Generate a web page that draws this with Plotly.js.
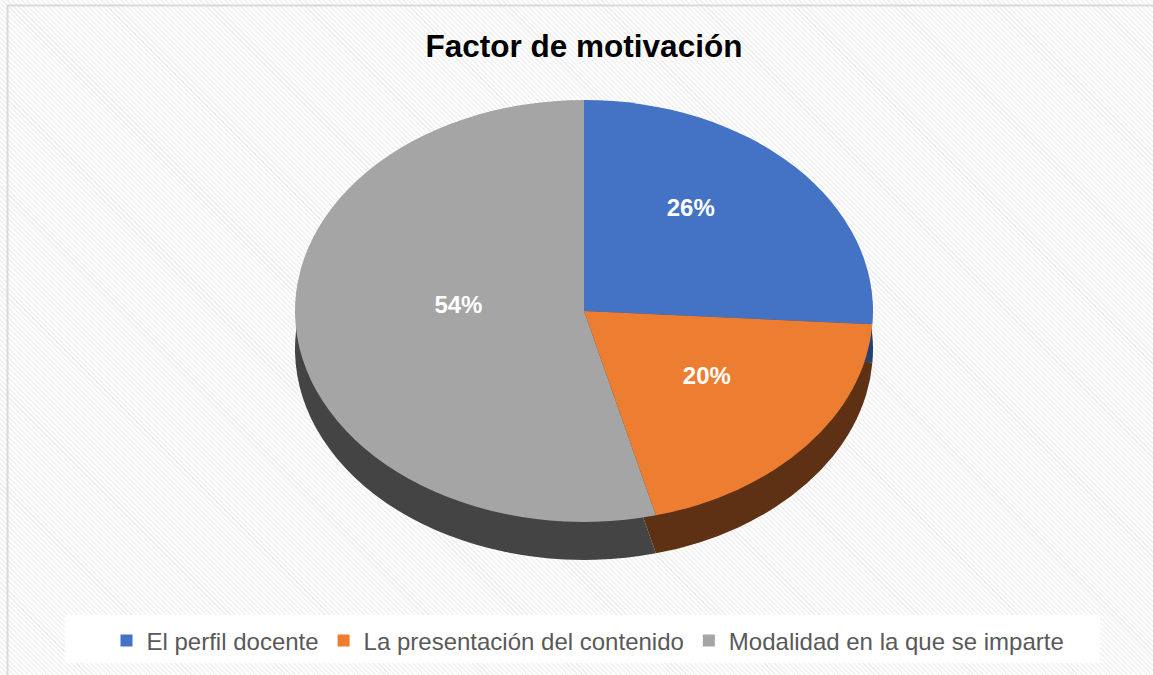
<!DOCTYPE html>
<html>
<head>
<meta charset="utf-8">
<script src="https://cdn.plot.ly/plotly-3.0.1.min.js"></script>
<style>
  html, body { margin: 0; padding: 0; }
  body {
    width: 1153px; height: 675px; overflow: hidden;
    background: repeating-linear-gradient(45deg, #ffffff 0px, #ffffff 2px, #f1f1f1 2px, #f1f1f1 3.5px);
  }
  #chart { width: 1153px; height: 675px; }
</style>
</head>
<body>
<div id="chart"></div>
<script>
// ---- data ----
const categories = ["El perfil docente", "La presentación del contenido", "Modalidad en la que se imparte"];
const values = [26, 20, 54];
const topColors = ["#4472c4", "#ed7d31", "#a5a5a5"];
const sideColors = ["#27406e", "#5e3114", "#444444"];
const chartTitle = "Factor de motivación";

// ---- geometry (pie layout) ----
const W = 1153, H = 675;
const cxPx = 584, cyPx = 311;      // centre of top face
const ry = 211, rx = 289;          // half-height / half-width of tilted face
const depth = 38;                  // thickness of the pie side
const sx = rx / ry;
const textSx = 1.2, textShiftY = -20;   // approximate perspective for labels

function dom(cy) {
  return {
    x: [(cxPx - ry) / W, (cxPx + ry) / W],
    y: [(H - cy - ry) / H, (H - cy + ry) / H]
  };
}

const sideTrace = {
  type: "pie", labels: categories, values: values, sort: false,
  direction: "clockwise", rotation: 0,
  marker: { colors: sideColors, line: { width: 0 } },
  textinfo: "none", showlegend: false, hoverinfo: "skip",
  domain: dom(cyPx + depth)
};
const topTrace = {
  type: "pie", labels: categories, values: values, sort: false,
  direction: "clockwise", rotation: 0,
  marker: { colors: topColors, line: { width: 0 } },
  texttemplate: "%{percent:.0%}", textposition: "inside",
  insidetextorientation: "horizontal",
  textfont: { family: "Liberation Sans, Arial, sans-serif", size: 24, color: "#ffffff", weight: "bold" },
  domain: dom(cyPx)
};

const layout = {
  width: W, height: H,
  margin: { l: 0, r: 0, t: 0, b: 0 },
  paper_bgcolor: "rgba(0,0,0,0)",
  plot_bgcolor: "rgba(0,0,0,0)",
  title: {
    text: "<b>" + chartTitle + "</b>",
    x: 584 / W, xanchor: "center",
    y: 1 - 46 / H, yanchor: "middle",
    font: { family: "Liberation Sans, Arial, sans-serif", size: 31.5, color: "#000000" }
  },
  showlegend: true,
  legend: {
    orientation: "h",
    x: 588 / W, xanchor: "center",
    y: 1 - 641 / H, yanchor: "middle",
    bgcolor: "rgba(0,0,0,0)",
    font: { family: "Liberation Sans, Arial, sans-serif", size: 24, color: "#595959" },
    itemwidth: 30, traceorder: "normal"
  },
  shapes: [
    { type: "rect", xref: "paper", yref: "paper", layer: "below",
      x0: 65 / W, x1: 1100 / W, y0: 1 - 663 / H, y1: 1 - 615 / H,
      fillcolor: "#ffffff", line: { width: 0 } },
    { type: "line", xref: "paper", yref: "paper", x0: 7.5 / W, x1: 7.5 / W, y0: 0, y1: 1 - 5 / H,
      line: { color: "#d9d9d9", width: 2 } },
    { type: "line", xref: "paper", yref: "paper", x0: 7.5 / W, x1: 1, y0: 1 - 5.5 / H, y1: 1 - 5.5 / H,
      line: { color: "#d9d9d9", width: 2 } }
  ]
};

Plotly.newPlot("chart", [sideTrace, topTrace], layout, { staticPlot: true, displayModeBar: false }).then(function (gd) {
  const svg = gd.querySelector(".main-svg");
  const svgRect = svg.getBoundingClientRect();
  const traces = gd.querySelectorAll(".pielayer .trace");
  traces.forEach(function (tr, i) {
    const cd0 = gd.calcdata[i][0];
    const cx = cd0.cx;
    tr.querySelectorAll("path.surface").forEach(function (p) {
      p.setAttribute("transform", "translate(" + cx + ",0) scale(" + sx + ",1) translate(" + (-cx) + ",0)");
    });
    tr.querySelectorAll("g.slicetext").forEach(function (g) {
      const t = g.querySelector("text");
      if (!t) return;
      const r = t.getBoundingClientRect();
      const tcx = r.left + r.width / 2 - svgRect.left;
      g.setAttribute("transform", "translate(" + ((textSx - 1) * (tcx - cx)) + "," + textShiftY + ")");
    });
  });
});
</script>
</body>
</html>
